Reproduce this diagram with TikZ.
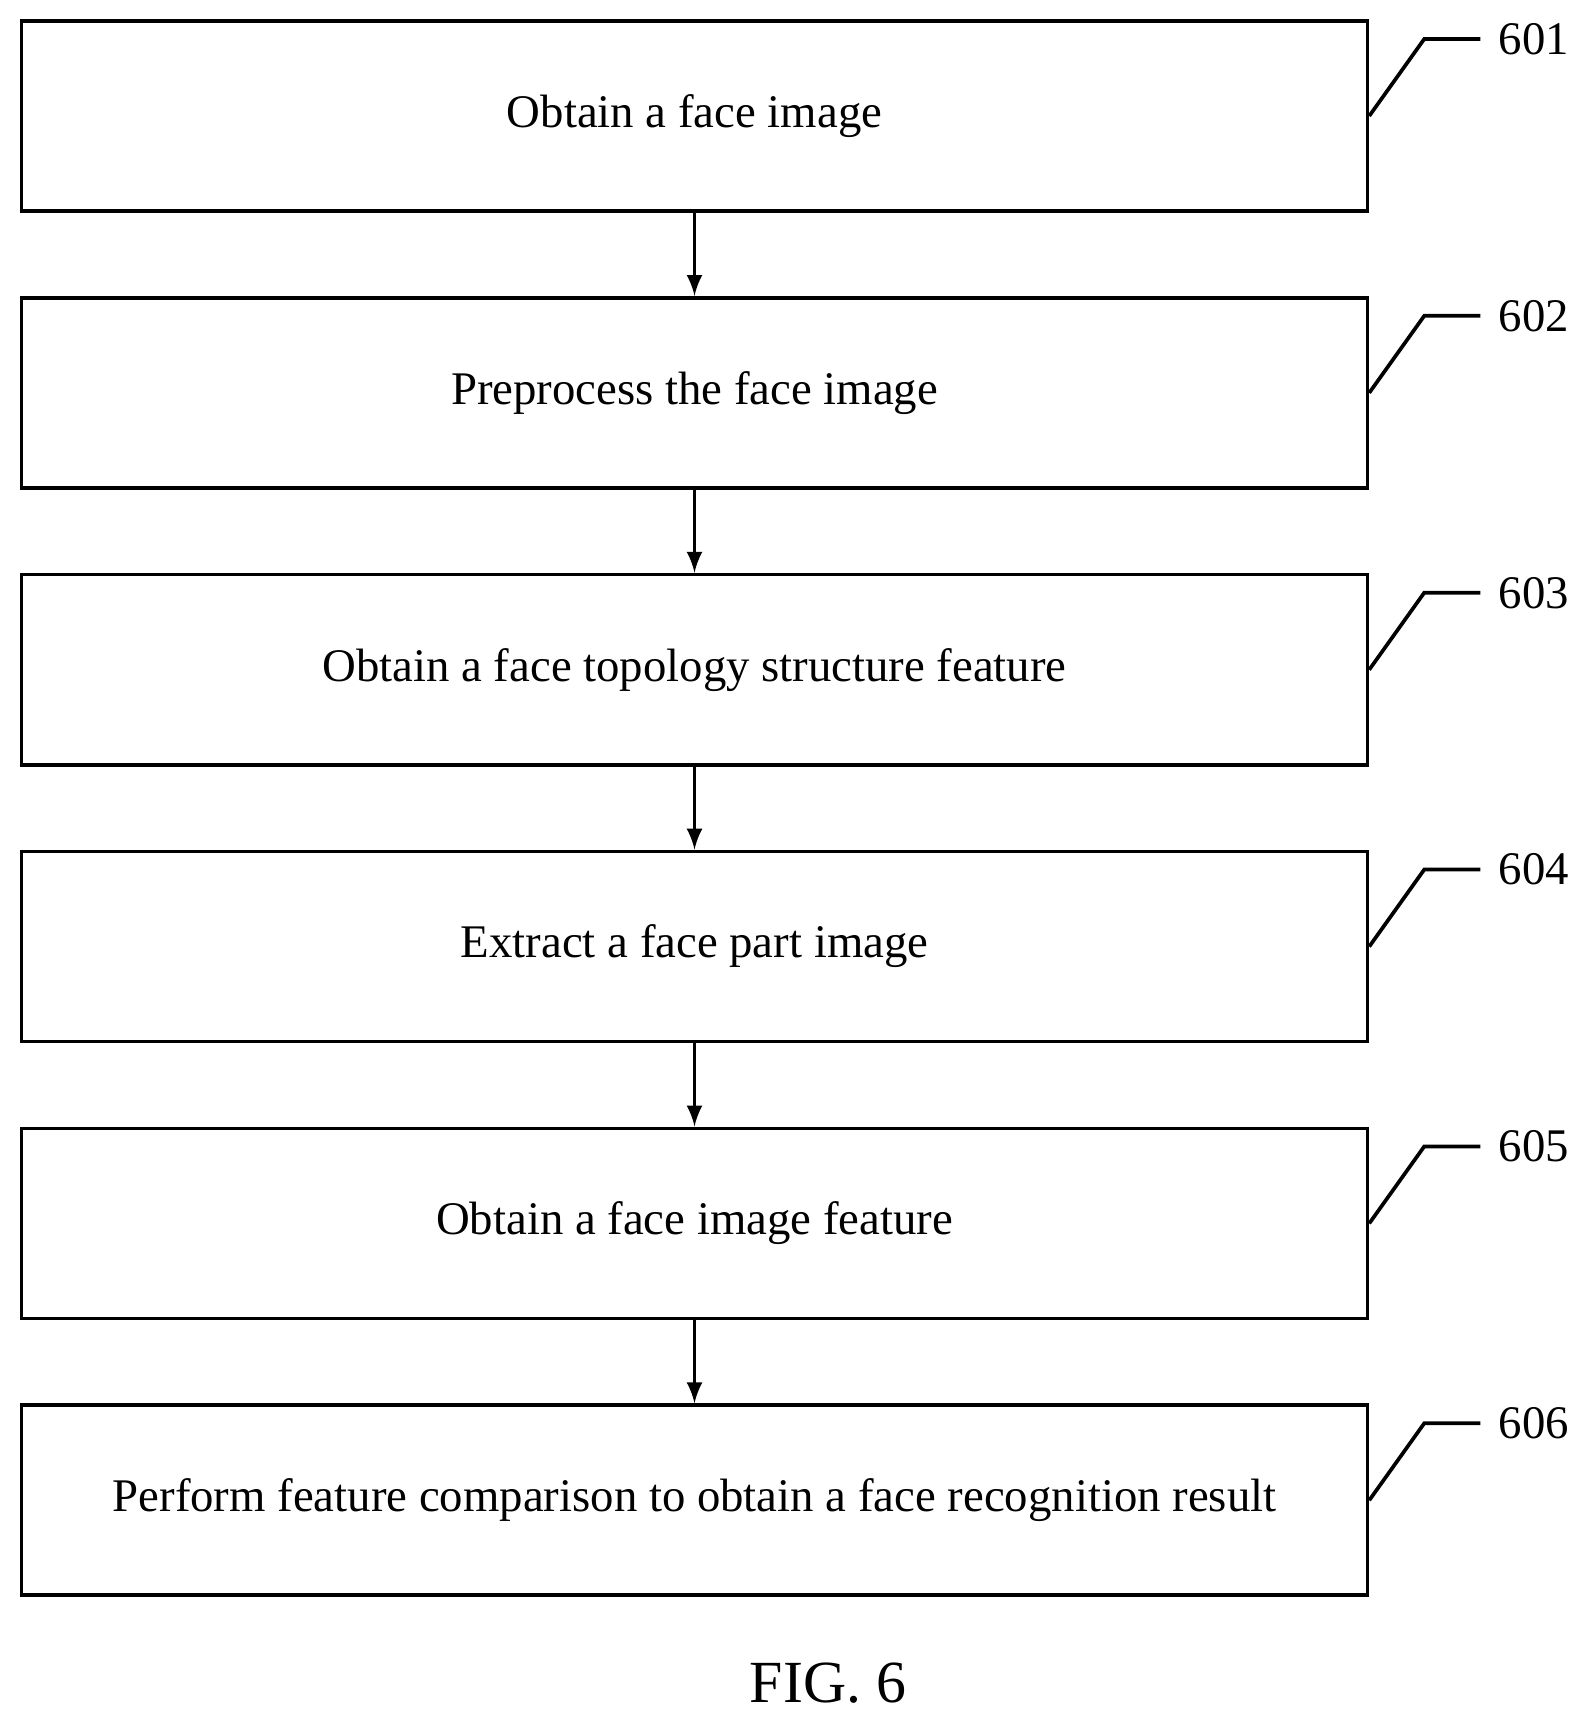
\documentclass[tikz,border=0pt]{standalone}
\usepackage{fontspec}
\setmainfont{Liberation Serif}
\usetikzlibrary{positioning,calc}

\begin{document}
\begin{tikzpicture}[x=0.01cm,y=-0.01cm,
        stage/.style={draw,line width=1.05pt,rectangle,minimum width=13.45cm,minimum height=1.9cm,font=\fontsize{13.3}{15}\selectfont},
        tag/.style={font=\fontsize{13.3}{15}\selectfont},
        link/.style={line width=1.05pt}]
   \useasboundingbox (0,0) rectangle (1583,1728);
   \node (s1) [stage] at (694.5,116) {Obtain a face image};
   \node (s2) [stage,below=0.83cm of s1] {Preprocess the face image};
   \node (s3) [stage,below=0.83cm of s2] {Obtain a face topology structure feature};
   \node (s4) [stage,below=0.83cm of s3] {Extract a face part image};
   \node (s5) [stage,below=0.83cm of s4] {Obtain a face image feature};
   \node (s6) [stage,below=0.83cm of s5] {Perform feature comparison to obtain a face recognition result};
   \foreach \a/\b in {s1/s2,s2/s3,s3/s4,s4/s5,s5/s6}
      \draw[link,-latex] (\a) -- (\b);
   \foreach \i in {1,...,6} {
      \coordinate (k\i) at ($(s\i.east)+(55,-77)$);
      \node (n\i) [tag,anchor=west] at ($(k\i)+(62,0)$) {60\i};
      \draw[link] (s\i.east) -- (k\i) -- ++(56,0);
   }
   \node (fig) [font=\fontsize{17}{19}\selectfont] at (828,1683) {FIG. 6};
\end{tikzpicture}
\end{document}
